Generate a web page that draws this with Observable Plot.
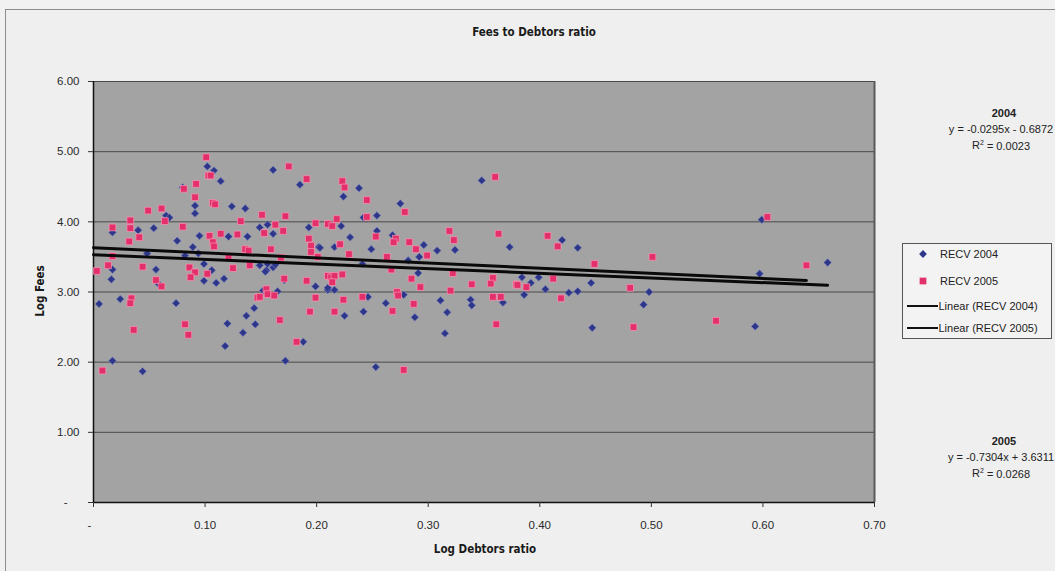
<!DOCTYPE html>
<html>
<head>
<meta charset="utf-8">
<script src="https://cdn.jsdelivr.net/npm/d3@7"></script>
<script src="https://cdn.jsdelivr.net/npm/@observablehq/plot@0.6"></script>
<style>
  html, body { margin: 0; padding: 0; background: #f1f1f1; }
  #chart { width: 1055px; height: 571px; overflow: hidden; }
</style>
</head>
<body>
<div id="chart"></div>
<script>
// ---------------- data ----------------
const title = "Fees to Debtors ratio";
const xLabel = "Log Debtors ratio";
const yLabel = "Log Fees";
const seriesNames = ["RECV 2004", "RECV 2005"];
const trendNames = ["Linear (RECV 2004)", "Linear (RECV 2005)"];
const xTicks = [0, 0.1, 0.2, 0.3, 0.4, 0.5, 0.6, 0.7];
const yTicks = [0, 1, 2, 3, 4, 5, 6];

// RECV 2004: [log debtors ratio, log fees]
const recv2004 = [
[0.005,2.83],[0.017,3.32],[0.016,3.18],[0.017,3.85],[0.040,3.88],[0.024,2.90],[0.048,3.55],[0.054,3.91],
[0.065,4.09],[0.068,4.06],[0.056,3.32],[0.058,3.12],[0.074,2.84],[0.075,3.73],[0.080,4.49],[0.091,4.23],
[0.091,4.12],[0.095,3.80],[0.102,4.79],[0.108,4.73],[0.114,4.58],[0.124,4.22],[0.136,4.19],[0.121,3.79],
[0.138,3.79],[0.089,3.64],[0.082,3.52],[0.099,3.40],[0.099,3.16],[0.106,3.31],[0.110,3.13],[0.117,3.19],
[0.094,3.55],[0.152,3.02],[0.165,3.01],[0.171,3.17],[0.149,3.92],[0.156,3.96],[0.161,3.83],[0.161,4.74],
[0.185,4.53],[0.156,3.40],[0.161,3.35],[0.155,3.31],[0.163,3.39],[0.149,3.38],[0.154,3.29],[0.199,3.08],
[0.193,3.92],[0.202,3.64],[0.216,3.64],[0.017,2.02],[0.044,1.87],[0.120,2.55],[0.118,2.23],[0.134,2.42],
[0.137,2.66],[0.144,2.77],[0.145,2.54],[0.172,2.02],[0.188,2.29],[0.210,3.03],[0.216,3.03],[0.224,4.36],
[0.238,4.48],[0.275,4.26],[0.348,4.59],[0.222,3.94],[0.242,4.06],[0.254,4.09],[0.254,3.87],[0.230,3.78],
[0.203,3.63],[0.268,3.81],[0.249,3.61],[0.296,3.67],[0.308,3.59],[0.292,3.50],[0.324,3.60],[0.373,3.64],
[0.241,3.40],[0.282,3.45],[0.291,3.27],[0.311,2.88],[0.317,2.71],[0.338,2.89],[0.339,2.81],[0.367,2.85],
[0.315,2.41],[0.253,1.93],[0.210,3.06],[0.225,2.66],[0.246,2.93],[0.242,2.72],[0.262,2.84],[0.278,2.96],
[0.288,2.64],[0.420,3.74],[0.434,3.63],[0.446,3.13],[0.399,3.21],[0.392,3.13],[0.386,2.96],[0.405,3.04],
[0.384,3.21],[0.426,2.99],[0.434,3.01],[0.498,3.00],[0.493,2.82],[0.447,2.49],[0.593,2.51],[0.597,3.26],
[0.599,4.03],[0.658,3.42]
];

// RECV 2005: [log debtors ratio, log fees]
const recv2005 = [
[0.003,3.30],[0.013,3.38],[0.017,3.92],[0.017,3.51],[0.033,4.02],[0.033,3.91],[0.032,3.72],[0.041,3.78],
[0.034,2.91],[0.033,2.84],[0.044,3.36],[0.049,4.16],[0.061,4.19],[0.064,4.01],[0.056,3.17],[0.061,3.08],
[0.080,3.93],[0.081,4.47],[0.092,4.54],[0.091,4.35],[0.101,4.92],[0.103,4.66],[0.105,4.66],[0.107,4.27],
[0.109,4.25],[0.132,4.01],[0.114,3.83],[0.104,3.80],[0.107,3.71],[0.108,3.65],[0.129,3.82],[0.086,3.35],
[0.091,3.28],[0.087,3.21],[0.102,3.26],[0.125,3.34],[0.136,3.61],[0.139,3.59],[0.140,3.38],[0.121,3.50],
[0.147,2.92],[0.155,3.04],[0.156,2.97],[0.162,2.95],[0.151,4.10],[0.163,3.96],[0.153,3.84],[0.170,3.87],
[0.172,4.08],[0.175,4.79],[0.191,4.61],[0.159,3.61],[0.168,3.49],[0.191,3.16],[0.193,3.76],[0.195,3.66],
[0.199,3.98],[0.195,3.57],[0.201,3.50],[0.008,1.88],[0.036,2.46],[0.082,2.54],[0.085,2.39],[0.167,2.60],
[0.182,2.29],[0.194,2.72],[0.199,2.92],[0.216,2.72],[0.149,2.93],[0.171,3.19],[0.223,4.58],[0.225,4.49],
[0.245,4.31],[0.279,4.14],[0.360,4.64],[0.210,3.97],[0.214,3.94],[0.218,4.04],[0.245,4.07],[0.253,3.79],
[0.221,3.68],[0.229,3.54],[0.271,3.76],[0.269,3.71],[0.283,3.71],[0.289,3.61],[0.299,3.52],[0.263,3.50],
[0.319,3.87],[0.323,3.74],[0.363,3.83],[0.267,3.32],[0.285,3.19],[0.293,3.07],[0.322,3.27],[0.339,3.11],
[0.320,3.02],[0.358,3.20],[0.356,3.12],[0.358,2.93],[0.365,2.93],[0.379,3.11],[0.361,2.54],[0.278,1.89],
[0.210,3.23],[0.213,3.21],[0.216,3.23],[0.223,3.25],[0.214,3.14],[0.224,2.89],[0.241,2.93],[0.268,2.73],
[0.272,3.00],[0.273,2.95],[0.287,2.83],[0.407,3.80],[0.416,3.65],[0.449,3.40],[0.412,3.19],[0.388,3.07],
[0.380,3.10],[0.419,2.91],[0.481,3.06],[0.484,2.50],[0.558,2.59],[0.501,3.50],[0.604,4.07],[0.639,3.38]
];

// trendlines as drawn (slope, intercept)
const trendSlopes = [-0.66, -0.7304];
const trendIntercepts = [3.53, 3.6311];

// equation labels as printed
const eqYears = ["2004", "2005"];
const eqLines = ["y = -0.0295x - 0.6872", "y = -0.7304x + 3.6311"];
const eqR2 = ["0.0023", "0.0268"];

// ---------------- build ----------------
const blue = "#2d3688";
const pink = "#e4306a";
const font = "'Liberation Sans', Arial, sans-serif";
const rBlue = 3.5, rPink = 3.8;

const pts04 = recv2004.map(([x, y]) => ({x, y}));
const pts05 = recv2005.map(([x, y]) => ({x, y}));
const maxX = [d3.max(recv2004, d => d[0]), d3.max(recv2005, d => d[0])];
const trendData = [0, 1].flatMap(i => [0, maxX[i]].map(x => ({series: i, x, y: trendSlopes[i] * x + trendIntercepts[i]})));

const chart = Plot.plot({
  width: 1055,
  height: 571,
  marginLeft: 93,
  marginRight: 181,
  marginTop: 81,
  marginBottom: 69,
  style: {background: "transparent", fontFamily: font, fontSize: "11.5px", color: "#2a2a2a", overflow: "visible"},
  x: {domain: [0, 0.7]},
  y: {domain: [0, 6]},
  marks: [
    Plot.frame({fill: "#a3a3a3", stroke: null}),
    Plot.gridY(yTicks.filter(d => d > 0), {stroke: "#4a4a4a", strokeOpacity: 1, strokeWidth: 1}),
    Plot.ruleX([0.7], {stroke: "#5a5a5a", strokeWidth: 2}),
    Plot.ruleX([0], {stroke: "#111", strokeWidth: 1.5}),
    Plot.ruleY([0], {stroke: "#111", strokeWidth: 1.5}),
    Plot.axisY(yTicks, {tickSize: 5, tickPadding: 9, tickFormat: d => d === 0 ? "" : d.toFixed(2), label: null, stroke: "#333"}),
    Plot.axisY([0], {tickSize: 0, tickPadding: 14, tickFormat: () => "-", dx: -12, label: null}),
    Plot.axisX(xTicks, {tickSize: 5, tickPadding: 13, tickFormat: d => d === 0 ? "" : d.toFixed(2), label: null, stroke: "#333"}),
    Plot.axisX([0], {tickSize: 0, tickPadding: 18, tickFormat: () => "-", dx: -4, label: null}),
    Plot.dot(pts04, {x: "x", y: "y", symbol: "diamond2", r: rBlue, fill: blue, stroke: "#7d86c4", strokeWidth: 0.6}),
    Plot.dot(pts05, {x: "x", y: "y", symbol: "square", r: rPink, fill: pink, stroke: "#f49ab6", strokeWidth: 0.7}),
    Plot.line(trendData, {x: "x", y: "y", z: "series", stroke: "#0a0a0a", strokeWidth: 3})
  ]
});

document.getElementById("chart").appendChild(chart);

// ---------------- decorations outside the plot area ----------------
const svg = d3.select(chart);
svg.insert("rect", ":first-child")
  .attr("x", 5.5).attr("y", 9.5).attr("width", 1060).attr("height", 580)
  .attr("fill", "#efefef").attr("stroke", "#8c8c8c").attr("stroke-width", 1);

const narrow = "'Liberation Sans Narrow', 'DejaVu Sans Condensed', 'Liberation Sans', sans-serif";
svg.append("text").text(title)
  .attr("x", 534).attr("y", 36).attr("text-anchor", "middle")
  .attr("font-family", narrow).attr("font-weight", "bold").attr("font-size", 11.5).attr("fill", "#1a1a1a");

svg.append("text").text(xLabel)
  .attr("x", 485).attr("y", 553).attr("text-anchor", "middle")
  .attr("font-family", narrow).attr("font-weight", "bold").attr("font-size", 11.5).attr("fill", "#1a1a1a");

svg.append("text").text(yLabel)
  .attr("transform", "translate(44,291) rotate(-90)").attr("text-anchor", "middle")
  .attr("font-family", narrow).attr("font-weight", "bold").attr("font-size", 11.5).attr("fill", "#1a1a1a");

// legend
const lg = svg.append("g").attr("font-family", font).attr("font-size", 11).attr("fill", "#222").attr("text-anchor", "start");
lg.append("rect").attr("x", 902.5).attr("y", 243.5).attr("width", 149).attr("height", 95)
  .attr("fill", "#f3f3f3").attr("stroke", "#555");
const rowsY = [254, 281, 306, 328];
lg.append("path").attr("transform", `translate(923,${rowsY[0]})`)
  .attr("d", d3.symbol(d3.symbolDiamond2, Math.PI * rBlue * rBlue)()).attr("fill", blue);
lg.append("path").attr("transform", `translate(923,${rowsY[1]})`)
  .attr("d", d3.symbol(d3.symbolSquare, Math.PI * rPink * rPink)()).attr("fill", pink);
[2, 3].forEach(i => lg.append("line").attr("x1", 907).attr("x2", 938)
  .attr("y1", rowsY[i]).attr("y2", rowsY[i]).attr("stroke", "#111").attr("stroke-width", 2));
seriesNames.concat(trendNames).forEach((t, i) => {
  lg.append("text").text(t).attr("x", i < 2 ? 940 : 938.5).attr("y", rowsY[i]).attr("dy", "0.36em");
});

// equations
const eqTop = [113, 441];
eqYears.forEach((yr, i) => {
  const g = svg.append("g").attr("font-family", font).attr("font-size", 11).attr("fill", "#222").attr("text-anchor", "middle");
  g.append("text").text(yr).attr("x", 1004).attr("y", eqTop[i]).attr("dy", "0.36em").attr("font-weight", "bold");
  g.append("text").text(eqLines[i]).attr("x", 1001).attr("y", eqTop[i] + 16).attr("dy", "0.36em");
  const r = g.append("text").attr("x", 1001).attr("y", eqTop[i] + 32).attr("dy", "0.36em");
  r.append("tspan").text("R");
  r.append("tspan").text("2").attr("font-size", 7).attr("dy", "-0.6em");
  r.append("tspan").text(" = " + eqR2[i]).attr("dy", "0.45em");
});
</script>
</body>
</html>
